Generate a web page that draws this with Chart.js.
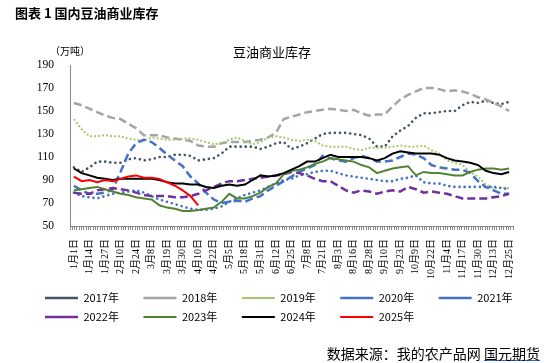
<!DOCTYPE html>
<html>
<head>
<meta charset="utf-8">
<script src="https://cdn.jsdelivr.net/npm/chart.js@4.4.1/dist/chart.umd.min.js"></script>
<style>
  body { margin: 0; background: #fff; }
  #wrap { position: relative; width: 544px; height: 363px; font-family: "Noto Sans CJK SC", sans-serif; }
  .txt { position: absolute; white-space: nowrap; color: #000; }
  #head { left: 15px; top: 5px; font-size: 13px; line-height: 15px; font-weight: bold; }
  #title { left: 0; width: 544px; text-align: center; top: 44px; font-size: 13px; line-height: 15px; }
  #unit { left: 50px; top: 45px; font-size: 10px; line-height: 12px; }
  #src { right: 4px; top: 344px; font-size: 14px; line-height: 18px; }
  #src span { text-decoration: underline; text-decoration-color: #2f6fd0; }
</style>
</head>
<body>
<div id="wrap">
  <canvas id="chart-line"></canvas>
  <div class="txt" id="head">图表 1 国内豆油商业库存</div>
  <div class="txt" id="title">豆油商业库存</div>
  <div class="txt" id="unit">（万吨）</div>
  <div class="txt" id="src">数据来源：我的农产品网 <span>国元期货</span></div>
</div>
<script>
var categories = ['1月1日','1月7日','1月14日','1月20日','1月27日','2月3日','2月10日','2月17日','2月24日','3月2日',
  '3月8日','3月13日','3月19日','3月24日','3月30日','4月4日','4月10日','4月16日','4月22日','4月28日',
  '5月5日','5月11日','5月18日','5月24日','5月31日','6月6日','6月12日','6月18日','6月25日','7月1日',
  '7月8日','7月14日','7月21日','7月27日','8月3日','8月9日','8月16日','8月22日','8月28日','9月3日',
  '9月10日','9月16日','9月23日','9月30日','10月9日','10月15日','10月22日','10月28日','11月4日','11月10日',
  '11月17日','11月23日','11月30日','12月6日','12月13日','12月19日','12月25日'];

var s2017 = [101,97,101,106,106,105,105,108,109,107, 108,110,110,112,112,111,107,108,109,113,
  119,119,119,119,117,119,122,123,117,119, 122,126,130,131,131,131,130,129,126,119,
  119,128,133,137,144,148,148,149,150,150, 155,158,157,159,157,156,158];
var s2018 = [157,155,152,149,146,144,143,139,135,129, 129,129,127,126,125,124,120,119,119,122,
  123,123,123,124,125,127,131,143,145,147, 149,150,151,152,151,150,151,148,146,147,
  147,154,160,164,167,170,170,169,167,168, 167,165,162,160,157,154,150];
var s2019 = [143,134,128,128,129,128,128,126,125,124, 127,126,125,125,126,126,125,123,121,122,
  125,127,124,121,123,127,128,127,125,124, 125,124,120,119,119,119,117,116,118,118,
  118,119,120,119,119,120,116,113,107,105, 103,97,93,86,83,83,83];
var s2020 = [85,81,78,78,79,82,97,113,122,125, 123,118,112,107,102,93,87,79,73,70,
  71,72,71,74,76,81,85,89,93,97, 100,103,111,109,107,106,109,111,109,106,
  106,107,110,113,112,109,103,101,100,99, 99,96,89,84,81,78,78];
var s2021 = [79,76,75,74,76,78,79,80,81,79, 76,73,71,69,67,65,64,64,65,67,
  71,74,77,79,81,84,87,90,91,94, 95,97,98,98,96,94,93,92,91,90,
  89,89,91,92,94,88,87,87,85,84, 84,84,84,84,84,83,82];
var s2022 = [79,78,78,81,82,83,82,81,79,77, 76,76,76,75,75,76,78,81,84,87,
  89,89,90,91,92,93,94,95,97,96, 94,91,89,89,85,81,79,81,80,78,
  80,81,80,84,82,79,80,79,78,76, 74,74,74,74,75,76,78];
var s2023 = [81,82,83,84,82,80,78,77,75,74, 73,68,66,65,63,63,64,65,66,71,
  78,74,74,76,79,84,87,95,98,99, 101,104,106,109,108,107,106,103,101,96,
  98,100,101,102,94,97,96,96,95,94, 94,97,99,100,100,99,100];
var s2024 = [100,96,94,92,91,90,91,91,91,91, 91,90,88,87,87,86,86,84,83,85,
  86,85,86,90,94,93,94,96,99,102, 106,106,109,112,110,110,110,110,109,107,
  109,113,115,114,113,113,113,112,109,107, 106,105,103,98,96,95,97];
var s2025 = [93,89,90,88,90,89,91,93,94,92, 92,91,88,85,81,76,68];

var yTicks = [50, 70, 90, 110, 130, 150, 170, 190];

function line(label, data, color, width, dash, cap, idx) {
  return {
    label: label,
    data: data,
    borderColor: color,
    backgroundColor: color,
    borderWidth: width,
    borderDash: dash,
    borderCapStyle: cap,
    pointRadius: 0,
    pointHoverRadius: 0,
    tension: 0,
    fill: false,
    order: -idx
  };
}

// legend sits 37px in from the left edge like the original
var legendShift = {
  id: 'legendShift',
  afterLayout: function(chart) {
    chart.legend.left = 37;
    chart.legend.right = chart.width;
  }
};

var ctx = document.getElementById('chart-line').getContext('2d');
new Chart(ctx, {
  type: 'line',
  data: {
    labels: categories,
    datasets: [
      line('2017年', s2017, '#44546A', 2.6, [0.1, 5], 'round', 0),
      line('2018年', s2018, '#A5A5A5', 2.5, [8, 4], 'butt', 1),
      line('2019年', s2019, '#A9C76B', 2, [2, 2], 'butt', 2),
      line('2020年', s2020, '#4472C4', 2.5, [8, 4], 'butt', 3),
      line('2021年', s2021, '#4472C4', 2.6, [0.1, 5], 'round', 4),
      line('2022年', s2022, '#7030A0', 2.5, [8, 4], 'butt', 5),
      line('2023年', s2023, '#548235', 2, [], 'butt', 6),
      line('2024年', s2024, '#000000', 2, [], 'butt', 7),
      line('2025年', s2025, '#FF0000', 2, [], 'butt', 8)
    ]
  },
  options: {
    responsive: true,
    maintainAspectRatio: false,
    animation: false,
    layout: { padding: { top: 65, right: 31, bottom: 30.5, left: 0 } },
    plugins: {
      title: { display: false },
      tooltip: { enabled: false },
      legend: {
        display: true,
        position: 'bottom',
        align: 'start',
        labels: {
          usePointStyle: true,
          pointStyle: 'line',
          pointStyleWidth: 33,
          padding: 8,
          color: '#000',
          font: { size: 11, family: "'Noto Sans CJK SC'" },
          sort: function(a, b) { return a.datasetIndex - b.datasetIndex; },
          generateLabels: function(chart) {
            var items = Chart.defaults.plugins.legend.labels.generateLabels(chart);
            items.forEach(function(it) { it.text = it.text + '\u2003\u2002'; });
            return items;
          }
        }
      }
    },
    scales: {
      y: {
        min: 50,
        max: 190,
        afterBuildTicks: function(scale) {
          scale.ticks = yTicks.map(function(v) { return { value: v }; });
        },
        afterFit: function(scale) {
          scale.width = 70;
          scale.paddingTop = 0;
          scale.paddingBottom = 0;
        },
        grid: { display: false, drawTicks: false },
        border: { display: true, color: '#868686', width: 1 },
        ticks: {
          padding: 16,
          color: '#000',
          font: { size: 11.5, family: "'Liberation Serif'" }
        }
      },
      x: {
        type: 'category',
        offset: true,
        weight: 1,
        afterFit: function(scale) {
          scale.height = 54.5;
          scale.paddingLeft = 0;
          scale.paddingRight = 0;
        },
        grid: { display: false, drawTicks: false },
        border: { display: false },
        ticks: {
          autoSkip: false,
          minRotation: 90,
          maxRotation: 90,
          padding: 9,
          color: '#000',
          font: { size: 10, family: "'Liberation Serif', 'Noto Sans CJK SC'" },
          callback: function(v, i) { return i % 2 === 0 ? categories[i] : ''; }
        }
      },
      x2: {
        type: 'linear',
        position: 'bottom',
        weight: 0,
        min: 0,
        max: 190,
        afterFit: function(scale) {
          scale.height = 4;
          scale.paddingLeft = 0;
          scale.paddingRight = 0;
        },
        grid: { drawOnChartArea: false, drawTicks: true, tickLength: 4, color: '#8a8a8a', lineWidth: 1 },
        border: { display: true, color: '#868686', width: 1 },
        ticks: { display: false, stepSize: 1 }
      }
    }
  },
  plugins: [legendShift]
});
</script>
</body>
</html>
